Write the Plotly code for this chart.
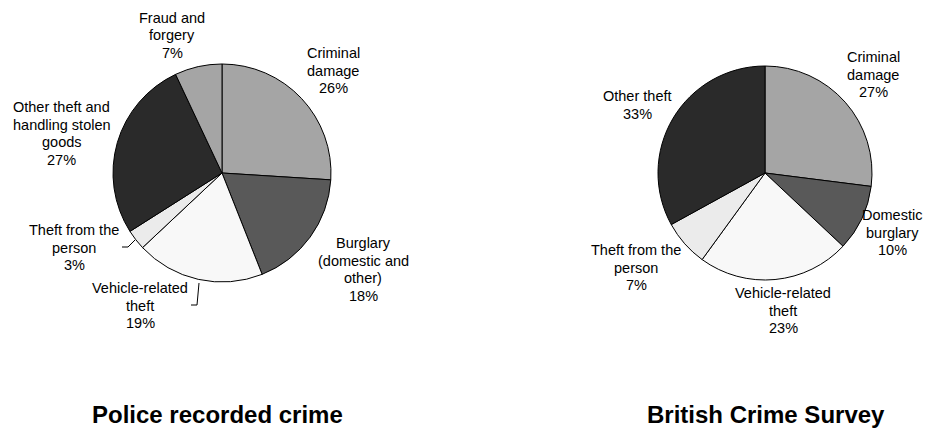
import plotly.graph_objects as go

W, H = 925, 428

# Police recorded crime
police_labels = ["Criminal damage", "Burglary (domestic and other)", "Vehicle-related theft",
                 "Theft from the person", "Other theft and handling stolen goods", "Fraud and forgery"]
police_values = [26, 18, 19, 3, 27, 7]
police_colors = ["#a5a5a5", "#595959", "#f8f8f8", "#ebebeb", "#2a2a2a", "#a5a5a5"]
police_text = [["Criminal", "damage"], ["Burglary", "(domestic and", "other)"], ["Vehicle-related", "theft"],
               ["Theft from the", "person"], ["Other theft and", "handling stolen", "goods"], ["Fraud and", "forgery"]]

# British Crime Survey
bcs_labels = ["Criminal damage", "Domestic burglary", "Vehicle-related theft",
              "Theft from the person", "Other theft"]
bcs_values = [27, 10, 23, 7, 33]
bcs_colors = ["#a5a5a5", "#595959", "#f8f8f8", "#ebebeb", "#2a2a2a"]
bcs_text = [["Criminal", "damage"], ["Domestic", "burglary"], ["Vehicle-related", "theft"],
            ["Theft from the", "person"], ["Other theft"]]

titles = ["Police recorded crime", "British Crime Survey"]

LABEL_FONT = dict(family="Liberation Sans, Arial, sans-serif", size=14.5, color="#000000")
TITLE_FONT = dict(family="Liberation Sans, Arial, sans-serif", size=24, color="#000000")
LINE_STEP = 17.5


def px_x(x):
    return x / W


def px_y(y):
    return 1 - y / H


def pie_domain(cx, cy, r):
    return dict(x=[px_x(cx - r), px_x(cx + r)], y=[px_y(cy + r), px_y(cy - r)])


fig = go.Figure()
fig.add_trace(go.Pie(labels=police_labels, values=police_values, sort=False, direction="clockwise",
                     rotation=0, textinfo="none", hoverinfo="label+percent",
                     marker=dict(colors=police_colors, line=dict(color="#000000", width=1)),
                     domain=pie_domain(222, 173, 109), showlegend=False))
fig.add_trace(go.Pie(labels=bcs_labels, values=bcs_values, sort=False, direction="clockwise",
                     rotation=0, textinfo="none", hoverinfo="label+percent",
                     marker=dict(colors=bcs_colors, line=dict(color="#000000", width=1)),
                     domain=pie_domain(765, 173, 107), showlegend=False))

annotations = []


def add_label(lines, value, cx, top):
    for i, line in enumerate(lines + [f"{value}%"]):
        annotations.append(dict(x=px_x(cx), y=px_y(top + i * LINE_STEP), xref="paper", yref="paper",
                                text=line, showarrow=False, xanchor="center", yanchor="middle",
                                font=LABEL_FONT))


# label anchor positions (centre x, first-line y) in pixels
police_pos = [(333, 53), (363, 243), (140, 288), (74, 230), (62, 107), (172, 18)]
bcs_pos = [(873, 57), (892, 215), (783, 293), (636, 250), (637, 96)]

for lines, v, (cx, top) in zip(police_text, police_values, police_pos):
    add_label(lines, v, cx, top)
for lines, v, (cx, top) in zip(bcs_text, bcs_values, bcs_pos):
    add_label(lines, v, cx, top)

for t, cx in zip(titles, [217, 766]):
    annotations.append(dict(x=px_x(cx), y=px_y(414), xref="paper", yref="paper",
                            text=f"<b>{t}</b>", showarrow=False, xanchor="center", yanchor="middle",
                            font=TITLE_FONT))

# leader lines for the small slices
leaders = [
    [(122, 247), (128, 247), (135, 240)],
    [(199, 283), (197, 305), (191, 305)],
]
shapes = []
for pts in leaders:
    path = "M " + " L ".join(f"{px_x(x)},{px_y(y)}" for x, y in pts)
    shapes.append(dict(type="path", path=path, xref="paper", yref="paper",
                       line=dict(color="#000000", width=1)))

fig.update_layout(width=W, height=H, margin=dict(l=0, r=0, t=0, b=0),
                  paper_bgcolor="#ffffff", plot_bgcolor="#ffffff",
                  annotations=annotations, shapes=shapes)

fig.write_html("out.html")
